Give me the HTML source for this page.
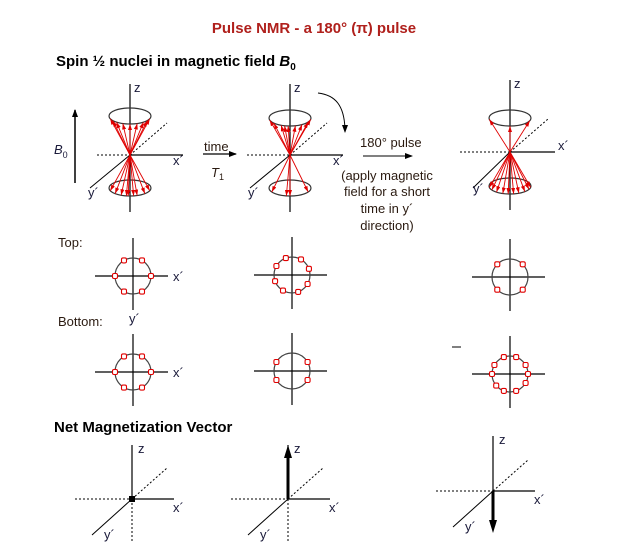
<!DOCTYPE html>
<html><head><meta charset="utf-8">
<style>
html,body{margin:0;padding:0;background:#fff;}
svg{display:block;font-family:"Liberation Sans",Arial,sans-serif;}
.lbl{font-size:13px;fill:#1a1a3a;}
.txt{font-size:13px;fill:#2a1a10;}
</style></head>
<body>
<svg id="svg" width="630" height="559" viewBox="0 0 630 559">
<defs>
<marker id="ah" markerWidth="8" markerHeight="6" refX="7" refY="3" orient="auto" markerUnits="userSpaceOnUse"><path d="M0,0 L8,3 L0,6 z" fill="#000"/></marker>
<marker id="rh" markerWidth="6" markerHeight="4" refX="6" refY="2" orient="auto" markerUnits="userSpaceOnUse"><path d="M0,0 L6,2 L0,4 z" fill="#e00000"/></marker>
</defs>
<text x="314" y="33" text-anchor="middle" font-size="15" font-weight="bold" fill="#b0201c">Pulse NMR - a 180° (π) pulse</text>
<text x="56" y="66" font-size="15" font-weight="bold" fill="#000">Spin ½ nuclei in magnetic field <tspan font-style="italic">B</tspan><tspan font-size="10" dy="4">0</tspan></text>

<g>
<line x1="75" y1="183" x2="75" y2="110" stroke="#000" stroke-width="1.5" marker-end="url(#ah)"/>
<text x="54" y="154" class="lbl" font-style="italic">B<tspan font-size="9" dy="4" font-style="normal">0</tspan></text>
</g>

<g id="d3"></g>

<g>
<text x="204" y="151" class="txt">time</text>
<line x1="203" y1="154" x2="236" y2="154" stroke="#000" stroke-width="1.2" marker-end="url(#ah)"/>
<text x="211" y="177" class="txt" font-style="italic">T<tspan font-size="9" dy="3" font-style="normal">1</tspan></text>
</g>
<g>
<path d="M318,93 C335,95 345,105 345,132" fill="none" stroke="#000" stroke-width="1" marker-end="url(#ah)"/>
<text x="360" y="147" class="txt">180° pulse</text>
<line x1="363" y1="156" x2="412" y2="156" stroke="#000" stroke-width="1" marker-end="url(#ah)"/>
<text x="387" y="180" class="txt" text-anchor="middle">(apply magnetic</text>
<text x="387" y="196" class="txt" text-anchor="middle">field for a short</text>
<text x="387" y="213" class="txt" text-anchor="middle">time in y´</text>
<text x="387" y="230" class="txt" text-anchor="middle">direction)</text>
</g>

<text x="58" y="247" class="txt">Top:</text>
<text x="58" y="326" class="txt">Bottom:</text>
<text x="129" y="323" class="lbl">y´</text>
<line x1="452" y1="347" x2="461" y2="347" stroke="#000" stroke-width="1"/>
<g id="tops"></g>

<text x="54" y="432" font-size="15" font-weight="bold" fill="#000">Net Magnetization Vector</text>
<g id="nmv"></g>
</svg>
<script>
const NS="http://www.w3.org/2000/svg";
const upperAngles1=[200,230,250,270,290,310,340,215,325];
const lowerAngles1=[160,135,115,95,70,45,20,100,80];
const upperAngles2=[195,220,245,265,285,305,330,350,255];
const lowerAngles2=[150,90,30,100];
const upperAngles3=[190,270,340];
const lowerAngles3=[170,150,130,110,95,80,65,45,25,10];
const topRow=[[0,60,120,180,240,300],[20,60,110,150,200,240,290,330],[45,135,225,315]];
const botRow=[[0,60,120,180,240,300],[30,150,210,330],[0,30,70,110,150,180,220,250,290,330]];

function el(tag,attrs,parent){const e=document.createElementNS(NS,tag);for(const k in attrs)e.setAttribute(k,attrs[k]);parent.appendChild(e);return e;}
function txt(s,x,y,parent,cls){const t=el('text',{x:x,y:y,class:cls||'lbl'},parent);t.textContent=s;return t;}

const d3=document.getElementById('d3');
const diag=[
 {cx:130,cy:155,zt:84,zb:212,xl:97,xr:183,dx:37,dy:-32,yx:90,yy:188,ut:116,bt:188,ua:upperAngles1,la:lowerAngles1,xlab:[173,165],ylab:[88,197]},
 {cx:290,cy:155,zt:84,zb:212,xl:247,xr:343,dx:37,dy:-32,yx:250,yy:188,ut:118,bt:188,ua:upperAngles2,la:lowerAngles2,xlab:[333,165],ylab:[248,197]},
 {cx:510,cy:152,zt:80,zb:210,xl:460,xr:555,dx:38,dy:-33,yx:473,yy:188,ut:118,bt:186,ua:upperAngles3,la:lowerAngles3,xlab:[558,150],ylab:[473,193]}
];
diag.forEach((d,i)=>{
 const g=el('g',{},d3);
 
 
 el('line',{x1:d.cx,y1:d.zt,x2:d.cx,y2:d.zb,stroke:'#000','stroke-width':1.2},g);
 el('line',{x1:d.xl,y1:d.cy,x2:d.cx,y2:d.cy,stroke:'#000','stroke-dasharray':'2,2'},g);
 el('line',{x1:d.cx,y1:d.cy,x2:d.xr,y2:d.cy,stroke:'#000','stroke-width':1.2},g);
 el('line',{x1:d.cx,y1:d.cy,x2:d.cx+d.dx,y2:d.cy+d.dy,stroke:'#000','stroke-dasharray':'2,2'},g);
 el('line',{x1:d.cx,y1:d.cy,x2:d.yx,y2:d.yy,stroke:'#000'},g);
 el('ellipse',{cx:d.cx,cy:d.ut,rx:21,ry:8,fill:'none',stroke:'#333','stroke-width':1.2},g);
 el('ellipse',{cx:d.cx,cy:d.bt,rx:21,ry:8,fill:'none',stroke:'#333','stroke-width':1.2},g);
 d.ua.forEach(a=>{const r=a*Math.PI/180;
  const l=el('line',{x1:d.cx,y1:d.cy,x2:d.cx+21*Math.cos(r),y2:d.ut-8*Math.sin(r),stroke:'#e00000','stroke-width':0.9,'marker-end':'url(#rh)'},g);
  });
 d.la.forEach(a=>{const r=a*Math.PI/180;
  const l=el('line',{x1:d.cx,y1:d.cy,x2:d.cx+21*Math.cos(r),y2:d.bt+8*Math.sin(r),stroke:'#e00000','stroke-width':0.9,'marker-end':'url(#rh)'},g);
  });
 txt('z',d.cx+4,d.zt+8,g);
 txt('x´',d.xlab[0],d.xlab[1],g);
 txt('y´',d.ylab[0],d.ylab[1],g);
});

const tops=document.getElementById('tops');
const tc=[[133,276],[292,275],[510,277]], bc=[[133,372],[292,371],[510,374]];
function topView(c,angles,label,name){
 const g=el('g',{},tops);
 
 
 el('line',{x1:c[0]-38,y1:c[1],x2:c[0]+35,y2:c[1],stroke:'#000','stroke-width':1.2},g);
 el('line',{x1:c[0],y1:c[1]-38,x2:c[0],y2:c[1]+34,stroke:'#000','stroke-width':1.2},g);
 el('circle',{cx:c[0],cy:c[1],r:18,fill:'none',stroke:'#444','stroke-width':1.2},g);
 angles.forEach(a=>{const r=a*Math.PI/180;
  const m=el('rect',{x:c[0]+18*Math.cos(r)-2.5,y:c[1]-18*Math.sin(r)-2.5,width:5,height:5,rx:1.5,fill:'#fff',stroke:'#e00000','stroke-width':1.1},g);
  });
 if(label) txt('x´',c[0]+40,c[1]+5,g);
}
tc.forEach((c,i)=>topView(c,topRow[i],i==0,'top-view-'+(i+1)));
bc.forEach((c,i)=>topView(c,botRow[i],i==0,'bottom-view-'+(i+1)));

const nmv=document.getElementById('nmv');
const nm=[{cx:132,cy:499,zt:445,zb:543,vec:0},{cx:288,cy:499,zt:445,zb:543,vec:-1},{cx:493,cy:491,zt:436,zb:491,vec:1}];
nm.forEach((d,i)=>{
 const g=el('g',{},nmv);
 
 
 el('line',{x1:d.cx,y1:d.zt,x2:d.cx,y2:d.cy,stroke:'#000','stroke-width':1.2},g);
 if(d.zb>d.cy) el('line',{x1:d.cx,y1:d.cy,x2:d.cx,y2:d.zb,stroke:'#000','stroke-dasharray':'2,2'},g);
 el('line',{x1:d.cx-57,y1:d.cy,x2:d.cx,y2:d.cy,stroke:'#000','stroke-dasharray':'2,2'},g);
 el('line',{x1:d.cx,y1:d.cy,x2:d.cx+42,y2:d.cy,stroke:'#000','stroke-width':1.2},g);
 el('line',{x1:d.cx,y1:d.cy,x2:d.cx+35,y2:d.cy-31,stroke:'#000','stroke-dasharray':'2,2'},g);
 el('line',{x1:d.cx,y1:d.cy,x2:d.cx-40,y2:d.cy+36,stroke:'#000'},g);
 txt('z',d.cx+6,d.zt+8,g);
 txt('x´',d.cx+41,d.cy+13,g);
 txt('y´',d.cx-28,d.cy+40,g);
 if(d.vec==0){const p=el('rect',{x:d.cx-3,y:d.cy-3,width:6,height:6,fill:'#000'},g);}
 else{
  const tip=d.cy+ (d.vec<0? -54 : 42);
  const sh=el('line',{x1:d.cx,y1:d.cy,x2:d.cx,y2:tip-(d.vec<0?-12:12),stroke:'#000','stroke-width':3},g);
  
  el('path',{d:`M${d.cx-4},${tip-(d.vec<0?-13:13)} L${d.cx+4},${tip-(d.vec<0?-13:13)} L${d.cx},${tip} z`,fill:'#000'},g);
 }
});
</script>
</body></html>
